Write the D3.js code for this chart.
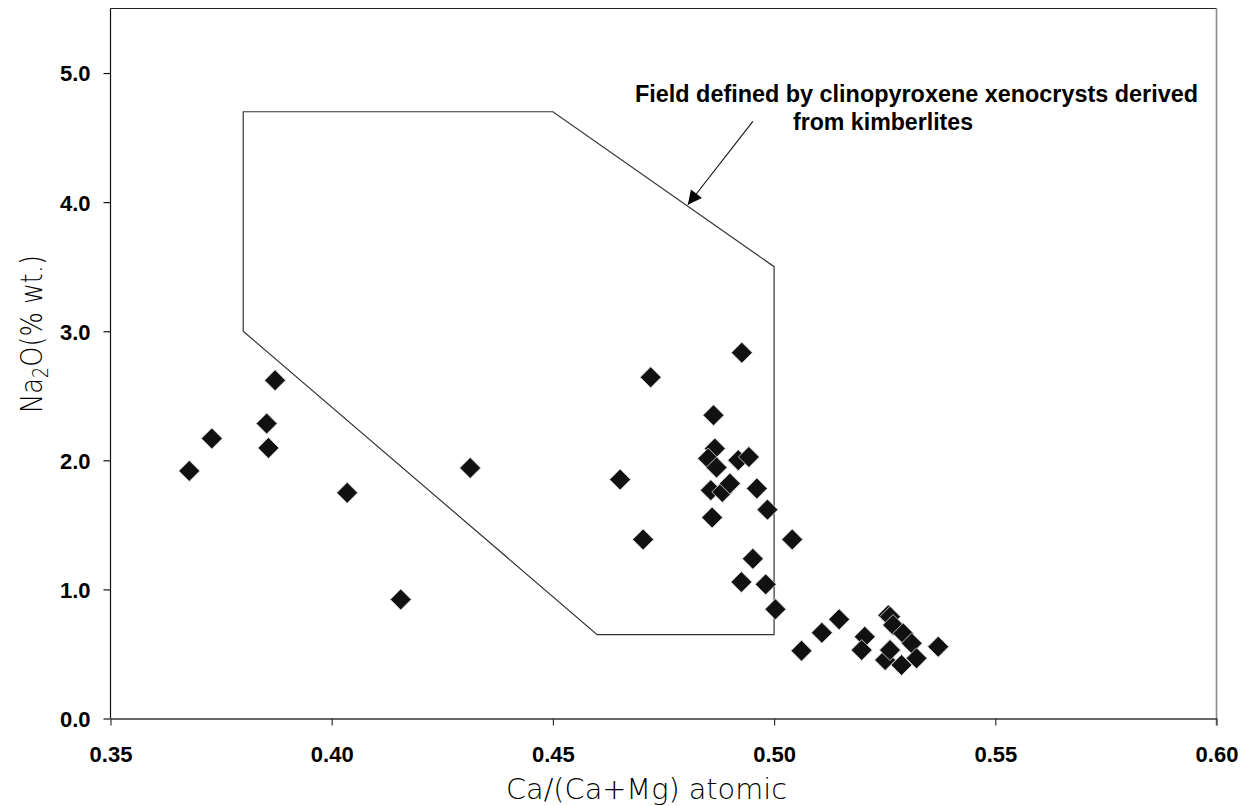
<!DOCTYPE html>
<html>
<head>
<meta charset="utf-8">
<script src="https://cdn.jsdelivr.net/npm/d3@7/dist/d3.min.js"></script>
<style>
  html, body { margin: 0; padding: 0; background: #fff; }
  svg { display: block; }
  .tick text { font-family: "Liberation Sans", Arial, sans-serif; font-weight: bold; font-size: 22px; fill: #000; }
  .axis-title { font-family: "DejaVu Sans", sans-serif; font-weight: 300; fill: #000; }
  .note { font-family: "Liberation Sans", Arial, sans-serif; font-weight: bold; font-size: 23px; fill: #000; }
</style>
</head>
<body>
<svg id="chart" width="1248" height="806"></svg>
<script>
// Ca/(Ca+Mg) atomic ratio and Na2O wt% of the analysed clinopyroxenes
const caRatio = [
  0.3678, 0.3729, 0.3872, 0.3853, 0.3857, 0.4035, 0.4156, 0.4313,
  0.4652, 0.4704, 0.4721, 0.4927, 0.4863, 0.4866, 0.4851, 0.4870,
  0.4919, 0.4943, 0.4857, 0.4883, 0.4900, 0.4961, 0.4985, 0.4860,
  0.5041, 0.4952, 0.4926, 0.4981, 0.5003,
  0.5062, 0.5108, 0.5147, 0.5205, 0.5198, 0.5258, 0.5262, 0.5269,
  0.5292, 0.5311, 0.5251, 0.5262, 0.5288, 0.5322, 0.5371
];
const na2o = [
  1.918, 2.169, 2.620, 2.285, 2.096, 1.748, 0.922, 1.941,
  1.851, 1.387, 2.643, 2.834, 2.349, 2.091, 2.014, 1.944,
  2.001, 2.026, 1.769, 1.755, 1.820, 1.782, 1.618, 1.557,
  1.387, 1.237, 1.057, 1.039, 0.846,
  0.525, 0.664, 0.768, 0.633, 0.530, 0.800, 0.788, 0.724,
  0.659, 0.582, 0.453, 0.530, 0.414, 0.466, 0.556
];

// Outline of the kimberlite clinopyroxene xenocryst field
const fieldX = [0.38, 0.38, 0.45, 0.50, 0.50, 0.46, 0.38];
const fieldY = [3.0, 4.7, 4.7, 3.5, 0.65, 0.65, 3.0];

// Annotation arrow: tail and tip
const arrowX = [0.4952, 0.4805];
const arrowY = [4.625, 3.98];

const xTicks = [0.35, 0.40, 0.45, 0.50, 0.55, 0.60];
const yTicks = [0.0, 1.0, 2.0, 3.0, 4.0, 5.0];
const noteLines = ["Field defined by clinopyroxene xenocrysts derived", "from kimberlites"];

const svg = d3.select("#chart");
const plotLeft = 110.5, plotRight = 1216.5, plotTop = 8.5, plotBottom = 718.5;

const x = d3.scaleLinear().domain([0.35, 0.60]).range([plotLeft, plotRight]);
const y = d3.scaleLinear().domain([0, 5.5]).range([plotBottom, plotTop]);

// frame: top and right edges
svg.append("line").attr("x1", plotLeft).attr("x2", plotRight).attr("y1", plotTop).attr("y2", plotTop)
  .attr("stroke", "#222").attr("stroke-width", 1.2);
svg.append("line").attr("x1", plotRight).attr("x2", plotRight).attr("y1", plotTop).attr("y2", plotBottom + 7)
  .attr("stroke", "#888").attr("stroke-width", 1.6);

// field polygon
const fieldPts = fieldX.map((v, i) => [x(v), y(fieldY[i])]);
svg.append("path")
  .attr("d", d3.line()(fieldPts))
  .attr("fill", "none")
  .attr("stroke", "#333")
  .attr("stroke-width", 1.2);

// axes
const xAxis = svg.append("g").attr("transform", `translate(0,${plotBottom})`)
  .call(d3.axisBottom(x).tickValues(xTicks).tickFormat(d3.format(".2f")).tickSizeInner(7).tickSizeOuter(0));
xAxis.select(".domain").attr("stroke", "#333").attr("stroke-width", 1.4);
xAxis.selectAll(".tick line").attr("stroke", "#333").attr("stroke-width", 1.2);
xAxis.selectAll(".tick text").attr("y", 43).attr("dy", 0);

const yAxis = svg.append("g").attr("transform", `translate(${plotLeft},0)`)
  .call(d3.axisLeft(y).tickValues(yTicks).tickFormat(d3.format(".1f")).tickSizeInner(7).tickSizeOuter(0));
yAxis.select(".domain").attr("stroke", "#111").attr("stroke-width", 1.2)
  .attr("d", `M0,${plotTop}V${plotBottom}`);
yAxis.selectAll(".tick line").attr("stroke", "#111").attr("stroke-width", 1.2);
yAxis.selectAll(".tick text").attr("x", -20).attr("dy", "0.36em");

// axis titles
svg.append("text").attr("class", "axis-title")
  .attr("x", 646.5).attr("y", 799)
  .attr("text-anchor", "middle")
  .attr("font-size", 28)
  .attr("textLength", 281).attr("lengthAdjust", "spacingAndGlyphs")
  .text("Ca/(Ca+Mg) atomic");

const yt = svg.append("text").attr("class", "axis-title")
  .attr("transform", "translate(42,334) rotate(-90)")
  .attr("text-anchor", "middle")
  .attr("font-size", 30)
  .attr("textLength", 158).attr("lengthAdjust", "spacingAndGlyphs");
yt.append("tspan").text("Na");
yt.append("tspan").attr("dy", 6).attr("font-size", 21).text("2");
yt.append("tspan").attr("dy", -6).text("O(% wt.)");

// annotation
svg.append("text").attr("class", "note").attr("x", 635).attr("y", 102)
  .attr("textLength", 563).attr("lengthAdjust", "spacingAndGlyphs").text(noteLines[0]);
svg.append("text").attr("class", "note").attr("x", 793).attr("y", 130)
  .attr("textLength", 180).attr("lengthAdjust", "spacingAndGlyphs").text(noteLines[1]);

svg.append("defs").append("marker")
  .attr("id", "head").attr("viewBox", "0 0 10 10")
  .attr("refX", 10).attr("refY", 5)
  .attr("markerWidth", 17).attr("markerHeight", 14)
  .attr("markerUnits", "userSpaceOnUse")
  .attr("orient", "auto")
  .append("path").attr("d", "M0,0L10,5L0,10Z").attr("fill", "#000");

svg.append("line")
  .attr("x1", x(arrowX[0])).attr("y1", y(arrowY[0]))
  .attr("x2", x(arrowX[1])).attr("y2", y(arrowY[1]))
  .attr("stroke", "#111").attr("stroke-width", 1.1)
  .attr("marker-end", "url(#head)");

// data points: filled diamonds
const pts = caRatio.map((v, i) => ({ cx: v, ny: na2o[i] }));
const diamond = d3.symbol().type(d3.symbolSquare).size(220);
svg.append("g").selectAll("path")
  .data(pts)
  .join("path")
  .attr("d", diamond)
  .attr("transform", d => `translate(${x(d.cx)},${y(d.ny)}) rotate(45)`)
  .attr("fill", "#111")
  .attr("stroke", "#d8d8d8")
  .attr("stroke-width", 0.8);
</script>
</body>
</html>
